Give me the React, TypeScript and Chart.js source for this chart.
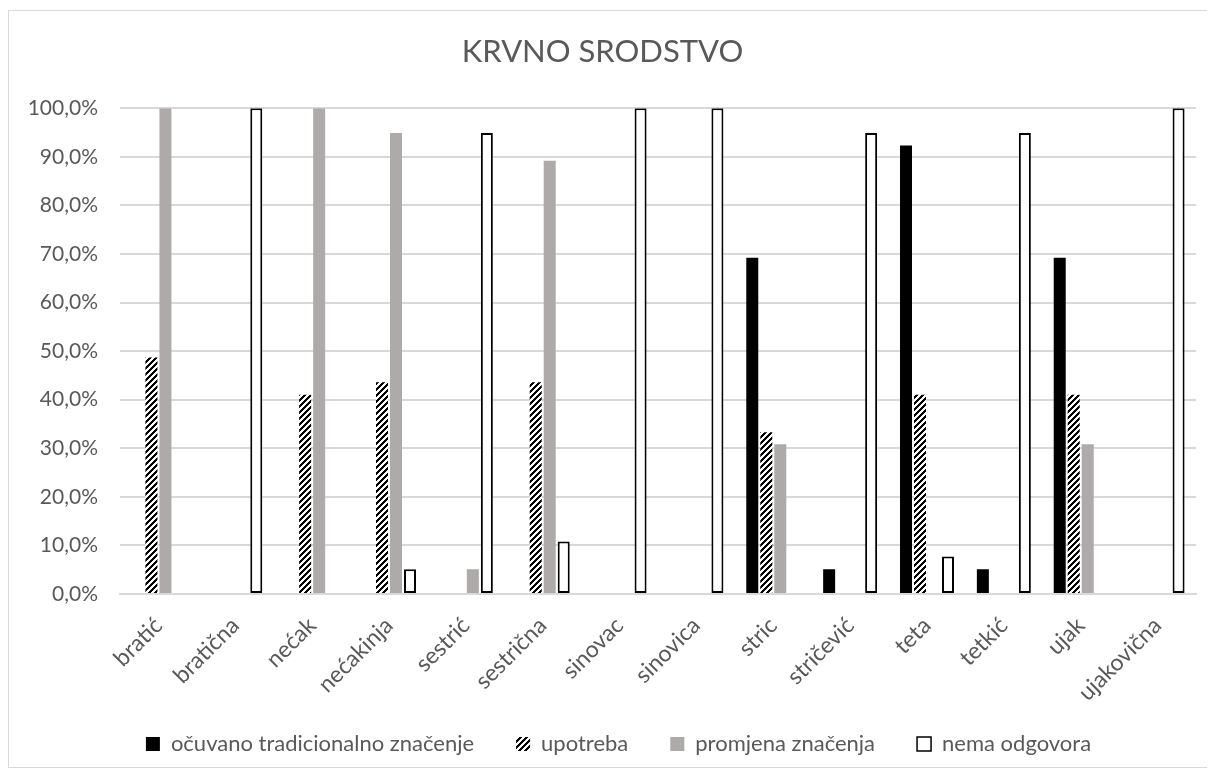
import React, { useEffect, useRef } from 'react';
import { Chart, registerables } from 'chart.js';

Chart.register(...registerables);

const categories = [
  'bratić', 'bratična', 'nećak', 'nećakinja', 'sestrić', 'sestrična', 'sinovac',
  'sinovica', 'stric', 'stričević', 'teta', 'tetkić', 'ujak', 'ujakovična',
];
const ocuvano = [0, 0, 0, 0, 0, 0, 0, 0, 69.2, 5.1, 92.3, 5.1, 69.2, 0];
const upotreba = [48.7, 0, 41.0, 43.6, 0, 43.6, 0, 0, 33.3, 0, 41.0, 0, 41.0, 0];
const promjena = [100, 0, 100, 94.9, 5.1, 89.2, 0, 0, 30.8, 0, 0, 0, 30.8, 0];
const nema = [0, 100, 0, 5.1, 94.9, 10.8, 100, 100, 0, 94.9, 7.7, 94.9, 0, 100];
const seriesNames = ['očuvano tradicionalno značenje', 'upotreba', 'promjena značenja', 'nema odgovora'];
const chartTitle = 'KRVNO SRODSTVO';

const FONT = 'Lato';
const TEXT = '#595959';
const GRID = '#d9d9d9';

export default function App() {
  const ref = useRef<HTMLCanvasElement>(null);

  useEffect(() => {
    const canvas = ref.current;
    if (!canvas) return;
    const tile = document.createElement('canvas');
    const P = 6;
    tile.width = P;
    tile.height = P;
    const tctx = tile.getContext('2d')!;
    tctx.fillStyle = '#ffffff';
    tctx.fillRect(0, 0, P, P);
    tctx.fillStyle = '#000000';
    for (let x = 0; x < P; x++) {
      for (let y = 0; y < P; y++) {
        if ((x + y) % P < 3) tctx.fillRect(x, y, 1, 1);
      }
    }
    const ctx = canvas.getContext('2d')!;
    const hatch = ctx.createPattern(tile, 'repeat')!;

    const LEGEND_H = 45;
    const LEGEND_SHIFT_Y = -31;
    const LEGEND_SHIFT_X = 16;

    const legendFix = {
      id: 'legendFix',
      afterInit(chart: any) {
        const lg = chart.legend;
        if (!lg) return;
        const orig = lg.fit.bind(lg);
        lg.fit = function () {
          orig();
          this.height = LEGEND_H;
        };
      },
      afterLayout(chart: any) {
        const lg = chart.legend;
        if (!lg) return;
        lg.top += LEGEND_SHIFT_Y;
        lg.left += LEGEND_SHIFT_X;
        lg.right += LEGEND_SHIFT_X;
      },
    };

    const common = { categoryPercentage: 0.7286, barPercentage: 0.857 };

    const chart = new Chart(canvas, {
      type: 'bar',
      data: {
        labels: categories,
        datasets: [
          { ...common, label: seriesNames[0], data: ocuvano, backgroundColor: '#000000', borderWidth: 0 },
          { ...common, label: seriesNames[1], data: upotreba, backgroundColor: hatch, borderWidth: 0 },
          { ...common, label: seriesNames[2], data: promjena, backgroundColor: '#aeaaaa', borderWidth: 0 },
          {
            ...common,
            label: seriesNames[3],
            data: nema,
            backgroundColor: '#ffffff',
            borderColor: '#000000',
            borderWidth: (c: any) => (c.raw ? 2 : 0),
            borderSkipped: false,
          },
        ],
      },
      plugins: [legendFix],
      options: {
        animation: false,
        responsive: false,
        layout: { padding: { left: 0, right: 27, top: 0, bottom: 0 } },
        plugins: {
          title: {
            display: true,
            text: chartTitle,
            color: TEXT,
            font: { family: FONT, size: 31, weight: 'normal' },
            padding: { top: 22, bottom: 38 },
          },
          legend: {
            position: 'bottom',
            labels: {
              color: TEXT,
              font: { family: FONT, size: 22 },
              boxWidth: 14,
              boxHeight: 14,
              padding: 42,
              generateLabels: (ch: any) => {
                const items = (Chart.defaults as any).plugins.legend.labels.generateLabels(ch);
                items.forEach((it: any) => {
                  it.strokeStyle = '#000000';
                  it.lineWidth = it.datasetIndex === 3 ? 1.5 : 0;
                });
                return items;
              },
            },
          },
          tooltip: { enabled: false },
        },
        scales: {
          x: {
            grid: { display: false, drawTicks: false },
            border: { display: true, color: GRID, width: 2 },
            ticks: {
              color: TEXT,
              font: { family: FONT, size: 23 },
              minRotation: 45,
              maxRotation: 45,
              autoSkip: false,
              padding: 18,
            },
            afterFit(s: any) {
              s.height = 756 - 583 - LEGEND_H;
            },
          },
          y: {
            min: 0,
            max: 100,
            ticks: {
              stepSize: 10,
              color: TEXT,
              font: { family: FONT, size: 21 },
              padding: 22,
              callback: (v: any) => Number(v).toFixed(1).replace('.', ',') + '%',
            },
            grid: { color: GRID, lineWidth: 2, drawTicks: false },
            border: { display: false },
            afterFit(s: any) {
              s.width = 111;
            },
          },
        },
      },
    } as any);

    return () => chart.destroy();
  }, []);

  return (
    <div style={{ width: 1207, overflow: 'hidden', paddingTop: 2 }}>
      <div style={{ width: 1214, height: 756, border: '1px solid #d9d9d9', background: '#fff' }}>
        <canvas ref={ref} width={1214} height={756} style={{ display: 'block', width: 1214, height: 756 }} />
      </div>
    </div>
  );
}
